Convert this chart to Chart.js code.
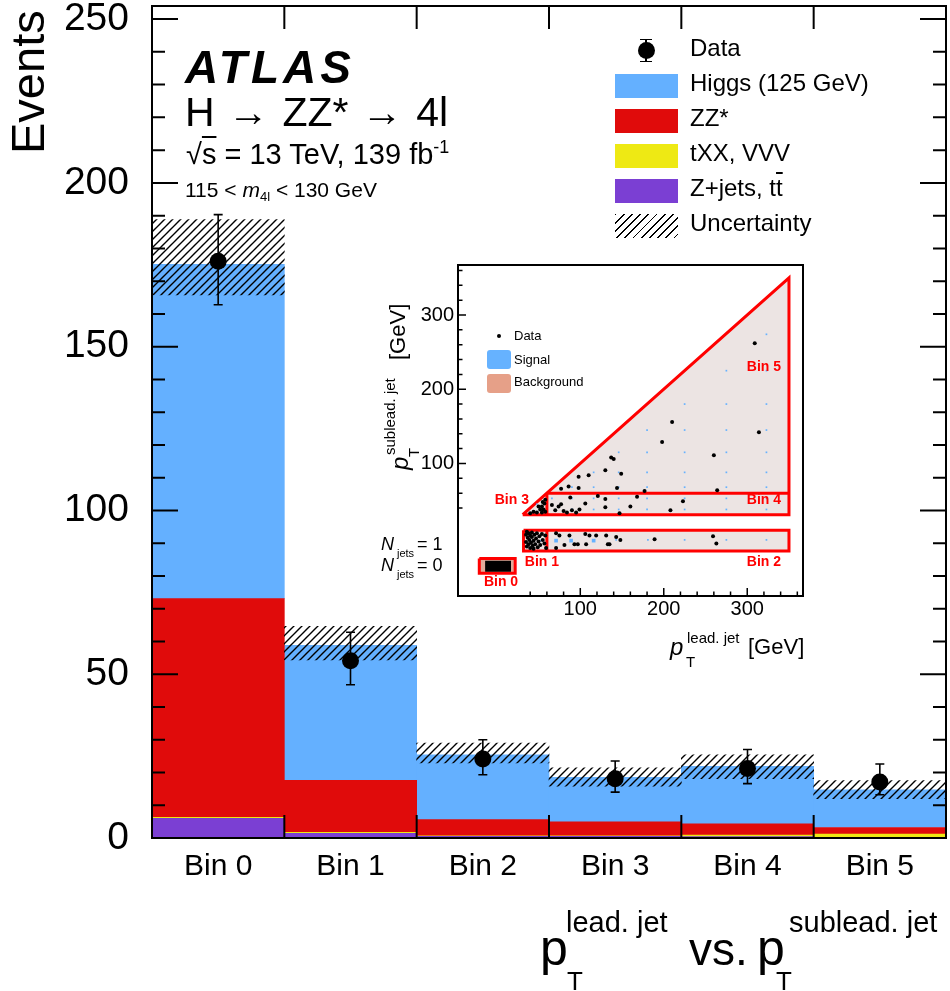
<!DOCTYPE html>
<html>
<head>
<meta charset="utf-8">
<title>ATLAS H to ZZ* to 4l - lead vs sublead jet pT bins</title>
<script src="https://cdn.jsdelivr.net/npm/chart.js@4.4.1/dist/chart.umd.min.js"></script>
<style>
  body { margin: 0; background: #fff; }
  #page { position: relative; width: 950px; height: 991px; overflow: hidden;
          font-family: "Liberation Sans", Arial, Helvetica, sans-serif; color: #000; }
  #main { position: absolute; left: 0; top: 0; }
  #inset { position: absolute; left: 380px; top: 262px; }
  .t { position: absolute; white-space: nowrap; line-height: 1; }
  .sw { position: absolute; }
</style>
</head>
<body>
<div id="page">
  <canvas id="main" width="950" height="991"></canvas>
  <canvas id="inset" width="430" height="405"></canvas>
</div>
<script>
// main histogram
var bins = ['Bin 0', 'Bin 1', 'Bin 2', 'Bin 3', 'Bin 4', 'Bin 5'];
var zjets = [6.0, 1.4, 0.5, 0.5, 0.4, 0.2];
var txx = [0.3, 0.3, 0.2, 0.2, 0.5, 1.0];
var zz = [66.8, 15.9, 4.9, 4.2, 3.4, 2.0];
var higgs = [102.0, 41.2, 19.8, 13.6, 17.6, 11.5];
var uncLow = [165.8, 54.4, 22.9, 15.8, 18.1, 12.0];
var uncHigh = [188.8, 64.6, 29.0, 21.4, 25.4, 17.5];
var dataVal = [176.1, 54.1, 24.1, 18.1, 21.2, 17.1];
var dataLow = [162.8, 46.8, 19.3, 14.0, 16.6, 13.2];
var dataHigh = [190.3, 62.8, 30.0, 23.5, 27.0, 22.6];
var yMax = 254;
var yLabels = [0, 50, 100, 150, 200, 250];

// inset: regions in (lead pT, sublead pT) plane, N_jets rows drawn below zero
var regionUpper = [[31, 31], [350, 350], [350, 31], [31, 31]];
var regionJet1 = [[32, 10], [350, 10], [350, -18], [32, -18], [32, 10]];
var regionJet0 = [[-21, -28], [22, -28], [22, -48], [-21, -48], [-21, -28]];
var blobJet0 = [[-14, -31], [17, -31], [17, -46], [-14, -46], [-14, -31]];
var divLine60 = [[60, 60], [350, 60]];
var divBin3 = [[60, 31], [60, 60]];
var divBin1 = [[60, -18], [60, 10]];
var insetTicks = [100, 200, 300];
var insetBinLabels = [['Bin 0', 5, -60], ['Bin 1', 54, -33], ['Bin 2', 320, -33],
                      ['Bin 3', 18, 50], ['Bin 4', 320, 50], ['Bin 5', 320, 230]];
var dataPts = [
  [309, 262], [210, 156], [314, 142], [198, 129], [260, 111], [137, 108], [140, 106],
  [149, 86], [130, 91], [110, 84], [98, 82], [144, 67], [98, 67], [86, 69], [77, 66],
  [177, 63], [264, 64],
  [88, 54], [121, 56], [130, 52], [168, 55], [223, 49], [106, 46], [77, 45], [74, 42],
  [66, 44], [130, 41], [160, 42], [99, 38], [70, 37], [80, 36], [84, 34], [90, 37],
  [95, 34], [208, 37], [147, 33],
  [58, 51], [57, 46], [54, 42], [56, 38], [52, 38], [48, 34], [58, 35], [54, 34],
  [50, 42], [44, 35], [40, 33], [55, 48],
  [35, 4], [35, -6], [36, -12], [37, 0], [38, 6], [38, -9], [39, -3], [40, 3], [40, -14],
  [41, -7], [42, 1], [42, 7], [43, -11], [44, -4], [45, 4], [46, -9], [47, -1], [48, 6],
  [49, -13], [50, -5], [51, 2], [52, -10], [54, 5], [55, -3], [57, -8], [58, 3], [59, -14],
  [36, 8], [44, -15],
  [71, 6], [75, 3], [71, -14], [81, -10], [87, 3], [93, -9], [97, -9], [106, 5], [107, -9],
  [111, 3], [119, 3], [131, 3], [133, -9], [135, -9], [143, 1], [148, -3], [189, -2],
  [259, 2], [263, -8]
];
var signalPts = [
  [323, 274], [275, 225], [323, 225], [225, 180], [275, 180], [323, 180],
  [180, 145], [225, 145], [275, 145], [323, 145],
  [146, 115], [180, 115], [225, 115], [275, 115], [323, 115],
  [116, 88], [146, 88], [180, 88], [225, 88], [275, 88], [323, 88],
  [90, 68], [116, 68], [146, 68], [180, 68], [225, 68], [275, 68], [323, 68],
  [66, 53], [90, 53], [116, 53], [146, 53], [180, 53], [225, 53], [275, 53], [323, 53],
  [90, 38], [116, 38], [146, 38], [180, 38], [225, 38], [275, 38], [323, 38],
  [48, 45], [55, 40], [43, -4], [53, -4],
  [143, -3], [181, -3], [225, -3], [275, -3], [323, -3]
];
var signalBig = [[71, -4], [89, -4], [116, -4]];

var FONT = '"Liberation Sans", Arial, Helvetica, sans-serif';
Chart.defaults.font.family = FONT;
Chart.defaults.color = '#000';

function pts(list) {
  return list.map(function(p) { return {x: p[0], y: p[1]}; });
}

// no extra room for overflowing tick labels, the frame sits where ROOT put it
function noPad(s) {
  s.paddingTop = 0; s.paddingBottom = 0; s.paddingLeft = 0; s.paddingRight = 0;
}

function makeHatch() {
  var c = document.createElement('canvas');
  c.width = 8; c.height = 8;
  var g = c.getContext('2d');
  g.strokeStyle = '#000';
  g.lineWidth = 1.4;
  g.beginPath();
  g.moveTo(-1, 9); g.lineTo(9, -1);
  g.moveTo(-1, 1); g.lineTo(1, -1);
  g.moveTo(7, 9); g.lineTo(9, 7);
  g.stroke();
  return g.createPattern(c, 'repeat');
}

var mainDeco = {
  id: 'mainDeco',
  afterDatasetsDraw: function(chart) {
    var c = chart.ctx, x = chart.scales.x, y = chart.scales.y;
    c.save();
    c.strokeStyle = '#000';
    c.lineWidth = 1.6;
    c.beginPath();
    for (var i = 0; i < dataVal.length; i++) {
      var px = x.getPixelForValue(i);
      var lo = y.getPixelForValue(dataLow[i]), hi = y.getPixelForValue(dataHigh[i]);
      c.moveTo(px, lo); c.lineTo(px, hi);
      c.moveTo(px - 4.5, lo); c.lineTo(px + 4.5, lo);
      c.moveTo(px - 4.5, hi); c.lineTo(px + 4.5, hi);
    }
    c.stroke();
    c.restore();
  },
  afterDraw: function(chart) {
    var c = chart.ctx, a = chart.chartArea, x = chart.scales.x, y = chart.scales.y;
    c.save();
    c.strokeStyle = '#000';
    c.lineWidth = 2;
    c.beginPath();
    for (var v = 0; v <= yMax; v += 10) {
      var py = y.getPixelForValue(v);
      var len = v % 50 === 0 ? 26 : 13;
      c.moveTo(a.left, py); c.lineTo(a.left + len, py);
      c.moveTo(a.right, py); c.lineTo(a.right - len, py);
    }
    for (var i = 1; i < bins.length; i++) {
      var px = (x.getPixelForValue(i - 1) + x.getPixelForValue(i)) / 2;
      c.moveTo(px, a.bottom); c.lineTo(px, a.bottom - 23);
      c.moveTo(px, a.top); c.lineTo(px, a.top + 23);
    }
    c.stroke();
    c.strokeRect(a.left, a.top, a.right - a.left, a.bottom - a.top);
    c.restore();
  }
};

new Chart(document.getElementById('main'), {
  type: 'bar',
  data: {
    labels: bins,
    datasets: [
      {label: 'Z+jets, tt', data: zjets, backgroundColor: '#7b3fd3', stack: 'mc', order: 2},
      {label: 'tXX, VVV', data: txx, backgroundColor: '#eee914', stack: 'mc', order: 2},
      {label: 'ZZ*', data: zz, backgroundColor: '#e00b0b', stack: 'mc', order: 2},
      {label: 'Higgs (125 GeV)', data: higgs, backgroundColor: '#64b0ff', stack: 'mc', order: 2},
      {label: 'Uncertainty', data: uncLow.map(function(v, i) { return [v, uncHigh[i]]; }),
       backgroundColor: makeHatch(), yAxisID: 'y2', grouped: false, order: 1},
      {type: 'line', label: 'Data', data: dataVal, yAxisID: 'y2', showLine: false,
       pointRadius: 8.5, pointBackgroundColor: '#000', pointBorderWidth: 0, order: 0}
    ]
  },
  options: {
    responsive: false,
    animation: false,
    layout: {autoPadding: false, padding: {left: 0, right: 4, top: 6, bottom: 0}},
    plugins: {legend: {display: false}, tooltip: {enabled: false}},
    datasets: {bar: {barPercentage: 1, categoryPercentage: 1, borderWidth: 0}},
    scales: {
      x: {
        stacked: true,
        grid: {display: false, drawTicks: false},
        border: {display: false},
        ticks: {font: {size: 30}, color: '#000', padding: 11, maxRotation: 0, autoSkip: false},
        afterFit: function(s) { s.height = 153; noPad(s); }
      },
      y: {
        stacked: true, min: 0, max: yMax,
        grid: {display: false, drawTicks: false},
        border: {display: false},
        ticks: {font: {size: 39}, color: '#000', padding: 23},
        afterBuildTicks: function(s) { s.ticks = yLabels.map(function(v) { return {value: v}; }); },
        afterFit: function(s) { s.width = 152; noPad(s); }
      },
      y2: {display: false, stacked: false, min: 0, max: yMax}
    }
  },
  plugins: [mainDeco]
});

var insetDeco = {
  id: 'insetDeco',
  beforeDraw: function(chart) {
    var c = chart.ctx, a = chart.chartArea;
    c.save();
    c.fillStyle = '#fff';
    c.fillRect(a.left, a.top, a.right - a.left, a.bottom - a.top);
    c.restore();
  },
  afterDraw: function(chart) {
    var c = chart.ctx, a = chart.chartArea, x = chart.scales.x, y = chart.scales.y;
    c.save();
    c.strokeStyle = '#000';
    c.lineWidth = 1.5;
    c.beginPath();
    for (var v = 40; v <= 360; v += 20) {
      var len = v % 100 === 0 ? 8 : 4.5;
      var py = y.getPixelForValue(v), px = x.getPixelForValue(v);
      c.moveTo(a.left, py); c.lineTo(a.left + len, py);
      c.moveTo(px, a.bottom); c.lineTo(px, a.bottom - len);
    }
    c.stroke();
    c.lineWidth = 2;
    c.strokeRect(a.left, a.top, a.right - a.left, a.bottom - a.top);
    c.fillStyle = '#ff0000';
    c.font = 'bold 14px ' + FONT;
    c.textAlign = 'center';
    c.textBaseline = 'middle';
    insetBinLabels.forEach(function(b) {
      c.fillText(b[0], x.getPixelForValue(b[1]), y.getPixelForValue(b[2]));
    });
    c.restore();
  }
};

function regionSet(list, fillColor, order) {
  return {type: 'line', data: pts(list), fill: fillColor ? 'shape' : false,
          backgroundColor: fillColor || 'transparent', borderColor: '#ff0000', borderWidth: 3,
          borderJoinStyle: 'miter', pointRadius: 0, order: order};
}

new Chart(document.getElementById('inset'), {
  type: 'scatter',
  data: {
    datasets: [
      regionSet(regionUpper, '#ece4e3', 9),
      regionSet(regionJet1, '#ece4e3', 9),
      regionSet(regionJet0, '#e3ab9a', 9),
      {type: 'line', data: pts(blobJet0), fill: 'shape', backgroundColor: '#000',
       borderWidth: 0, pointRadius: 0, order: 8},
      regionSet(divLine60, null, 7),
      regionSet(divBin3, null, 7),
      regionSet(divBin1, null, 7),
      {data: pts(signalPts), pointStyle: 'rect', pointRadius: 1.2, backgroundColor: '#66b2ff',
       borderWidth: 0, order: 3},
      {data: pts(signalBig), pointStyle: 'rect', pointRadius: 2.6, backgroundColor: '#66b2ff',
       borderWidth: 0, order: 3},
      {data: pts(dataPts), pointRadius: 2, backgroundColor: '#000', borderWidth: 0, order: 1}
    ]
  },
  options: {
    responsive: false,
    animation: false,
    layout: {autoPadding: false, padding: {left: 0, right: 7, top: 3, bottom: 0}},
    plugins: {legend: {display: false}, tooltip: {enabled: false}},
    scales: {
      x: {
        type: 'linear', min: -46.5, max: 366.8,
        grid: {display: false, drawTicks: false},
        border: {display: false},
        ticks: {font: {size: 20}, color: '#000', padding: 1},
        afterBuildTicks: function(s) { s.ticks = insetTicks.map(function(v) { return {value: v}; }); },
        afterFit: function(s) { s.height = 71; noPad(s); }
      },
      y: {
        type: 'linear', min: -78.6, max: 367.4,
        grid: {display: false, drawTicks: false},
        border: {display: false},
        ticks: {font: {size: 20}, color: '#000', padding: 4},
        afterBuildTicks: function(s) { s.ticks = insetTicks.map(function(v) { return {value: v}; }); },
        afterFit: function(s) { s.width = 78; noPad(s); }
      }
    }
  },
  plugins: [insetDeco]
});

// text annotations and legends
var page = document.getElementById('page');
function label(html, left, base, size, css) {
  var d = document.createElement('div');
  d.className = 't';
  d.style.left = left + 'px';
  d.style.top = (base - 0.8465 * size) + 'px';
  d.style.fontSize = size + 'px';
  if (css) d.style.cssText += css;
  d.innerHTML = html;
  page.appendChild(d);
  return d;
}
function vlabel(html, baseX, startY, size, css) {
  var d = label(html, baseX - 0.8465 * size, 0, size, css);
  d.style.top = startY + 'px';
  d.style.transformOrigin = '0 0';
  d.style.transform = 'rotate(-90deg)';
  return d;
}
function box(left, top, w, h, css) {
  var d = document.createElement('div');
  d.className = 'sw';
  d.style.cssText += 'left:' + left + 'px;top:' + top + 'px;width:' + w + 'px;height:' + h + 'px;' + css;
  page.appendChild(d);
  return d;
}

vlabel('Events', 43.5, 154, 47);

label('ATLAS', 185, 83.3, 46, 'font-weight:bold;font-style:italic;letter-spacing:4px;');
label('H &rarr; ZZ* &rarr; 4l', 185, 126.7, 41, 'word-spacing:2px;');
label('&radic;<span style="text-decoration:overline">s</span> = 13 TeV, 139 fb<span style="font-size:0.62em;position:relative;top:-0.62em">-1</span>', 186, 165, 29);
label('115 &lt; <i>m</i><span style="font-size:0.62em;position:relative;top:0.3em">4l</span> &lt; 130 GeV', 185, 196.7, 21);

// main legend
var legBase = [56.7, 91.7, 126.7, 161.7, 196.7, 231.7];
var legText = ['Data', 'Higgs (125 GeV)', 'ZZ*', 'tXX, VVV',
               'Z+jets, t<span style="text-decoration:overline">t</span>', 'Uncertainty'];
var legFill = [null, '#64b0ff', '#e00b0b', '#eee914', '#7b3fd3',
               'repeating-linear-gradient(135deg,#000 0 1.3px,transparent 1.3px 5.8px)'];
legText.forEach(function(tx, i) {
  label(tx, 690, legBase[i], 24);
  if (legFill[i]) box(615, legBase[i] - 18.2, 63, 24, 'background:' + legFill[i] + ';');
});
box(645, 39.3, 2, 22.4, 'background:#000;');
box(640, 38.5, 12, 1.6, 'background:#000;');
box(640, 60.5, 12, 1.6, 'background:#000;');
box(637.5, 42, 17, 17, 'background:#000;border-radius:50%;');

// main x title
label('p', 540, 965, 50);
label('lead. jet', 566, 933, 29);
label('T', 567, 990, 26);
label('vs.', 689, 965, 46);
label('p', 757, 965, 50);
label('sublead. jet', 789, 933, 29);
label('T', 776, 990, 26);

// inset legend
box(497.3, 334, 4, 4, 'background:#000;border-radius:50%;');
box(487, 349.5, 24, 19, 'background:#66b2ff;border-radius:3px;');
box(487, 373.5, 24, 19, 'background:#e6a088;border-radius:3px;');
label('Data', 514, 340.5, 13);
label('Signal', 514, 364, 13);
label('Background', 514, 386.5, 13);

// inset axis titles
label('<i>p</i>', 670, 655, 24);
label('lead. jet', 687, 643, 15);
label('T', 686, 667, 15);
label('[GeV]', 748, 655, 22);
vlabel('<i>p</i>', 408, 470, 24);
vlabel('sublead. jet', 395, 455, 15);
vlabel('T', 419, 457, 15);
vlabel('[GeV]', 406, 360, 22);

// N_jets row labels
label('<i>N</i>', 381, 550, 18);
label('jets', 397, 557, 11);
label('= 1', 417, 550, 18);
label('<i>N</i>', 381, 571.7, 18);
label('jets', 397, 578.7, 11);
label('= 0', 417, 571.7, 18);
</script>
</body>
</html>
